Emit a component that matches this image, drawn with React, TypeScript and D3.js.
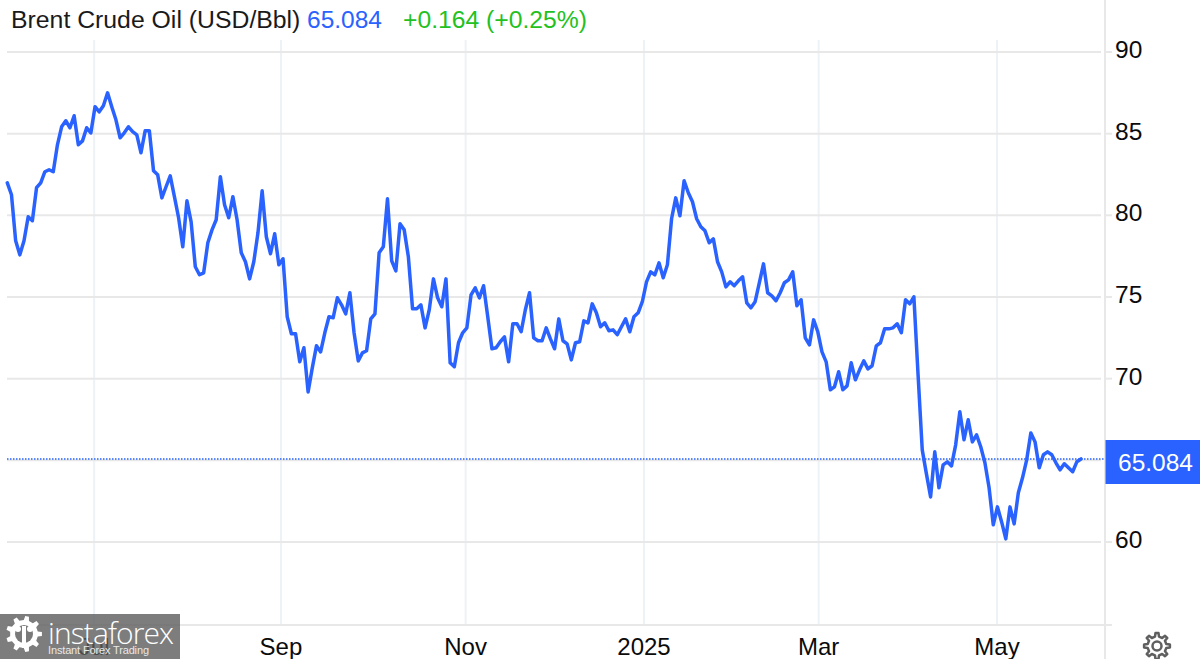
import React from 'react';
import * as d3 from 'd3';

const prices = [
  81.99, 81.26, 78.44, 77.58, 78.44, 79.91, 79.67, 81.69, 81.99, 82.67, 82.79, 82.67, 84.32, 85.42, 85.79, 85.36, 86.1, 84.32, 84.56, 85.36,
  85.05, 86.65, 86.34, 86.71, 87.5, 86.65, 85.85, 84.75, 85.05, 85.42, 85.12, 84.93, 83.83, 85.18, 85.18, 82.73, 82.48, 81.07, 81.75, 82.42,
  81.14, 79.85, 78.07, 80.89, 79.6, 76.85, 76.36, 76.48, 78.32, 79.11, 79.73, 82.36, 80.65, 79.85, 81.14, 79.73, 77.71, 77.16, 76.11, 77.16,
  78.93, 81.5, 78.69, 77.65, 78.87, 76.97, 77.34, 73.79, 72.75, 72.75, 71.03, 71.89, 69.19, 70.66, 72.01, 71.64, 72.81, 73.79, 73.73, 74.95,
  74.52, 73.97, 75.26, 72.81, 71.09, 71.58, 71.71, 73.66, 73.97, 77.71, 78.07, 81.01, 77.22, 76.6, 79.48, 79.11, 77.46, 74.28, 74.28, 74.52,
  73.11, 74.22, 76.11, 74.95, 74.4, 76.11, 70.97, 70.73, 72.2, 72.81, 73.11, 75.13, 75.56, 74.95, 75.69, 73.79, 71.83, 71.89, 72.26, 72.56,
  71.03, 73.36, 73.36, 72.87, 74.22, 75.26, 72.5, 72.32, 72.32, 73.11, 72.44, 71.83, 73.66, 72.32, 72.13, 71.15, 72.2, 72.26, 73.54, 73.42,
  74.58, 74.03, 73.18, 73.42, 72.93, 72.99, 72.69, 73.18, 73.66, 72.87, 73.79, 74.03, 74.71, 75.93, 76.54, 76.36, 77.09, 76.18, 76.97, 79.79,
  81.07, 79.97, 82.12, 81.38, 80.83, 79.79, 79.3, 79.05, 78.32, 78.56, 77.16, 76.54, 75.62, 75.93, 75.69, 75.99, 76.24, 74.64, 74.34, 74.71,
  75.87, 77.03, 75.26, 75.07, 74.77, 75.26, 75.87, 76.05, 76.54, 74.46, 74.83, 72.5, 72.07, 73.6, 72.87, 71.64, 71.03, 69.32, 69.5, 70.42,
  69.32, 69.56, 70.97, 69.93, 70.54, 71.09, 70.6, 70.79, 72.01, 72.2, 73.05, 73.05, 73.11, 73.36, 72.81, 74.83, 74.58, 75.01, 70.24, 65.64,
  64.17, 62.76, 65.52, 63.32, 64.72, 64.91, 64.66, 65.95, 67.97, 66.26, 67.48, 66.13, 66.56, 65.83, 64.85, 63.32, 61.05, 62.15, 61.23, 60.19,
  62.15, 61.11, 63.01, 63.93, 65.03, 66.68, 66.13, 64.54, 65.34, 65.52, 65.34, 64.85, 64.42, 64.79, 64.54, 64.3, 64.91, 65.084,
];
const yTicks = [60, 65, 70, 75, 80, 85, 90];
const yLabels = [60, 70, 75, 80, 85, 90];
const monthLabels = ['Jul', 'Sep', 'Nov', '2025', 'Mar', 'May'];
const monthSessions = [20.8, 65.5, 109.7, 152.4, 194.2, 236.9];
const lastPrice = 65.084;
const titleText = 'Brent Crude Oil (USD/Bbl)';
const changeText = '+0.164 (+0.25%)';

const WIDTH = 1200;
const HEIGHT = 659;
const font = '"Liberation Sans", Arial, sans-serif';
const blue = '#2962ff';

// toothed wheel, used for the settings icon and the watermark logo
function gearPath(cx: number, cy: number, rOut: number, rIn: number, teeth: number) {
  const pts: [number, number][] = [];
  const step = (Math.PI * 2) / teeth;
  for (let i = 0; i < teeth; i++) {
    const a = i * step;
    [[-0.27, rIn], [-0.15, rOut], [0.15, rOut], [0.27, rIn]].forEach(([k, r]) => {
      pts.push([cx + r * Math.cos(a + k * step), cy + r * Math.sin(a + k * step)]);
    });
  }
  return d3.line()(pts) + 'Z';
}

export default function App() {
  const x = d3.scaleLinear().domain([0, prices.length - 1]).range([7.3, 1081]);
  const y = d3.scaleLinear().domain([60, 90]).range([542, 52]);
  const line = d3.line<number>().x((_, i) => x(i)).y(d => y(d)).curve(d3.curveLinear);

  return (
    <svg
      width={WIDTH}
      height={HEIGHT}
      viewBox={`0 0 ${WIDTH} ${HEIGHT}`}
      style={{ position: 'fixed', left: 0, top: 0, background: '#fff', fontFamily: font }}
    >
      {/* vertical grid */}
      {monthSessions.map(s => (
        <line key={s} x1={x(s)} x2={x(s)} y1={40} y2={625} stroke="#edf2f7" strokeWidth={2} />
      ))}
      {/* horizontal grid and price ticks */}
      {yTicks.map(t => (
        <g key={t}>
          <line x1={7} x2={1101} y1={y(t)} y2={y(t)} stroke="#e8e8e8" strokeWidth={2} />
          <line x1={1105} x2={1112} y1={y(t)} y2={y(t)} stroke="#e8e8e8" strokeWidth={2} />
        </g>
      ))}
      {yLabels.map(t => (
        <text key={t} x={1115} y={y(t) + 6} fontSize={24.5} fill="#0b0b0b">{t}</text>
      ))}
      <line x1={7} x2={1112} y1={625} y2={625} stroke="#e8e8e8" strokeWidth={2} />
      <line x1={1105} x2={1105} y1={0} y2={HEIGHT} stroke="#e8e8e8" strokeWidth={2} />

      {/* month labels */}
      {monthSessions.map((s, i) => (
        <text key={s} x={x(s)} y={655} fontSize={24} textAnchor="middle" fill="#0b0b0b">
          {monthLabels[i]}
        </text>
      ))}

      {/* last price */}
      <line x1={7} x2={1105} y1={y(lastPrice)} y2={y(lastPrice)} stroke={blue} strokeWidth={1.5} strokeDasharray="1.5 1.5" />
      <path d={line(prices) ?? ''} fill="none" stroke={blue} strokeWidth={3.5} strokeLinejoin="round" strokeLinecap="round" />
      <rect x={1105.5} y={440} width={94.5} height={44} fill={blue} />
      <text x={1155.5} y={471} fontSize={24.5} textAnchor="middle" fill="#fff">{lastPrice}</text>

      {/* header */}
      <text x={11} y={28} fontSize={24.8} fill="#1a1a1a">{titleText}</text>
      <text x={307} y={28} fontSize={24.5} fill={blue}>{lastPrice}</text>
      <text x={403} y={28} fontSize={24.7} fill="#22c11f">{changeText}</text>

      {/* settings */}
      <path d={gearPath(1157, 646, 13, 9.5, 8)} fill="none" stroke="#5f5f5f" strokeWidth={2.5} strokeLinejoin="round" />
      <circle cx={1157} cy={646} r={4.5} fill="none" stroke="#5f5f5f" strokeWidth={2.5} />

      {/* watermark */}
      <rect x={0} y={614} width={180} height={45} fill="#5c5c5c" opacity={0.8} />
      <path d={gearPath(24, 634, 18, 14, 9)} fill="#fff" />
      <circle cx={24} cy={634} r={9} fill="#7a7a7a" />
      <circle cx={18} cy={629} r={3} fill="#fff" />
      <circle cx={30} cy={629} r={3} fill="#fff" />
      <rect x={22} y={626} width={4} height={22} fill="#fff" />
      <text x={48} y={644} fontSize={30} fontFamily='"Open Sans", sans-serif' fontWeight={300} fill="#fff" textLength={126} lengthAdjust="spacing">instaforex</text>
      <text x={48} y={654} fontSize={11} fill="#e8e8e8" textLength={101} lengthAdjust="spacing">Instant Forex Trading</text>
    </svg>
  );
}
